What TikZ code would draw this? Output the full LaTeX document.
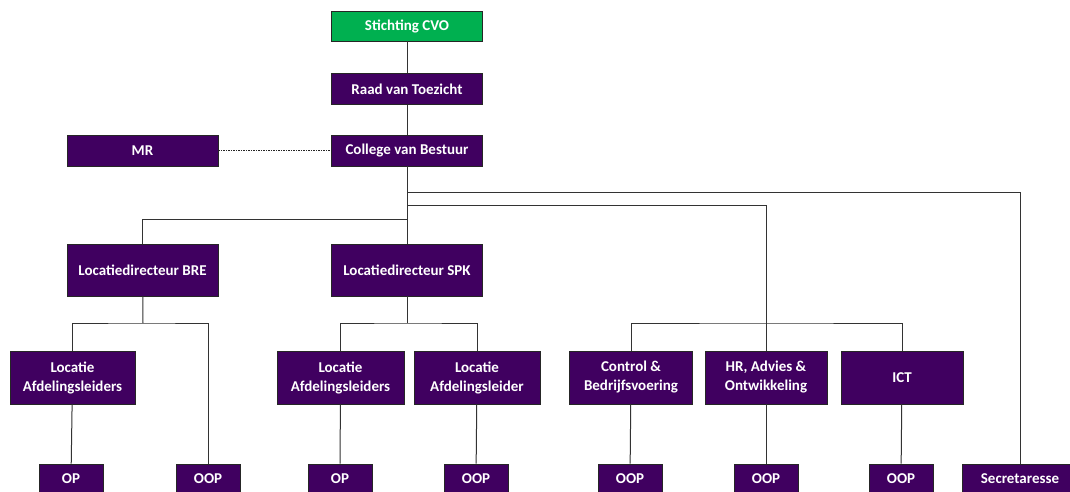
\documentclass[tikz,border=0pt]{standalone}
\usepackage{fontspec}
\setmainfont{Carlito}
\usetikzlibrary{positioning}

\definecolor{cvopurple}{RGB}{64,0,96}
\definecolor{cvogreen}{RGB}{0,176,80}

\begin{document}
\begin{tikzpicture}[
    x=1pt, y=-1pt,
    unit/.style={draw=black!85, fill=cvopurple, text=white, line width=0.8pt, inner sep=0pt, align=center, font=\fontsize{15}{19}\selectfont\bfseries},
    top_unit/.style={unit, fill=cvogreen, minimum width=151pt, minimum height=30pt},
    board/.style={unit, minimum width=151pt, minimum height=31pt},
    director/.style={unit, minimum width=151pt, minimum height=52pt},
    dept/.style={unit, minimum width=126pt, minimum height=53pt},
    staff/.style={unit, minimum width=64pt, minimum height=30pt},
    link/.style={draw=black!80, line width=1pt},
    link_dotted/.style={draw=black!85, line width=1pt, dash pattern=on 1.5pt off 1pt}
]
    \useasboundingbox (0,0) rectangle (1070,492);

    % Top of the organisation
    \node[top_unit] (cvo) at (407,26) {Stichting CVO};
    \node[board] (rvt) at (407,89) {Raad van Toezicht};
    \node[board] (cvb) at (407,150.5) {College van Bestuur};
    \node[board] (mr) at (142.5,150.5) {MR};

    % Locatiedirecteuren
    \node[director] (bre) at (142.5,270) {Locatiedirecteur BRE};
    \node[director] (spk) at (407,270) {Locatiedirecteur SPK};

    % Afdelingen
    \node[dept, minimum width=125pt] (lab) at (72.5,377.5) {Locatie\\Afdelingsleiders};
    \node[dept, minimum width=127pt] (las) at (340.5,377.5) {Locatie\\Afdelingsleiders};
    \node[dept] (lal) at (477,377.5) {Locatie\\Afdelingsleider};
    \node[dept, minimum width=123pt] (ctrl) at (631,377.5) {Control \&\\Bedrijfsvoering};
    \node[dept, minimum width=122pt] (hr) at (766,377.5) {HR, Advies \&\\Ontwikkeling};
    \node[dept, minimum width=122pt] (ict) at (902,377.5) {ICT};

    % Personeel
    \node[staff] (op1) at (71,479) {OP};
    \node[staff] (oop1) at (208,479) {OOP};
    \node[staff] (op2) at (340,479) {OP};
    \node[staff] (oop2) at (476,479) {OOP};
    \node[staff] (oop3) at (630,479) {OOP};
    \node[staff] (oop4) at (766,479) {OOP};
    \node[staff] (oop5) at (901,479) {OOP};
    \node[staff, minimum width=116pt] (sec) at (1020,479) {Secretaresse};

    % Junctions
    \coordinate (hub_sec) at (407,192);
    \coordinate (hub_staff) at (407,205);
    \coordinate (hub_loc) at (407,219);
    \coordinate (bar_bre) at (143,323);
    \coordinate (bar_spk) at (407,323);
    \coordinate (bar_staff) at (766,323);

    % Connectors
    \draw[link] (cvo) -- (rvt);
    \draw[link] (rvt) -- (cvb);
    \draw[link_dotted] (mr) -- (cvb);
    \draw[link] (cvb) -- (spk);
    \draw[link] (hub_sec) -| (sec.north);
    \draw[link] (hub_staff) -| (bar_staff);
    \draw[link] (hub_loc) -| (bre.north);

    \draw[link] (bre) -- (bar_bre);
    \draw[link] (lab.north) |- (bar_bre) -| (oop1.north);
    \draw[link] (lab) -- (op1);

    \draw[link] (spk) -- (bar_spk);
    \draw[link] (las.north) |- (bar_spk) -| (lal.north);
    \draw[link] (las) -- (op2);
    \draw[link] (lal) -- (oop2);

    \draw[link] (ctrl.north) |- (bar_staff) -| (ict.north);
    \draw[link] (bar_staff) -- (hr.north);
    \draw[link] (ctrl) -- (oop3);
    \draw[link] (hr) -- (oop4);
    \draw[link] (ict) -- (oop5);

\end{tikzpicture}
\end{document}
